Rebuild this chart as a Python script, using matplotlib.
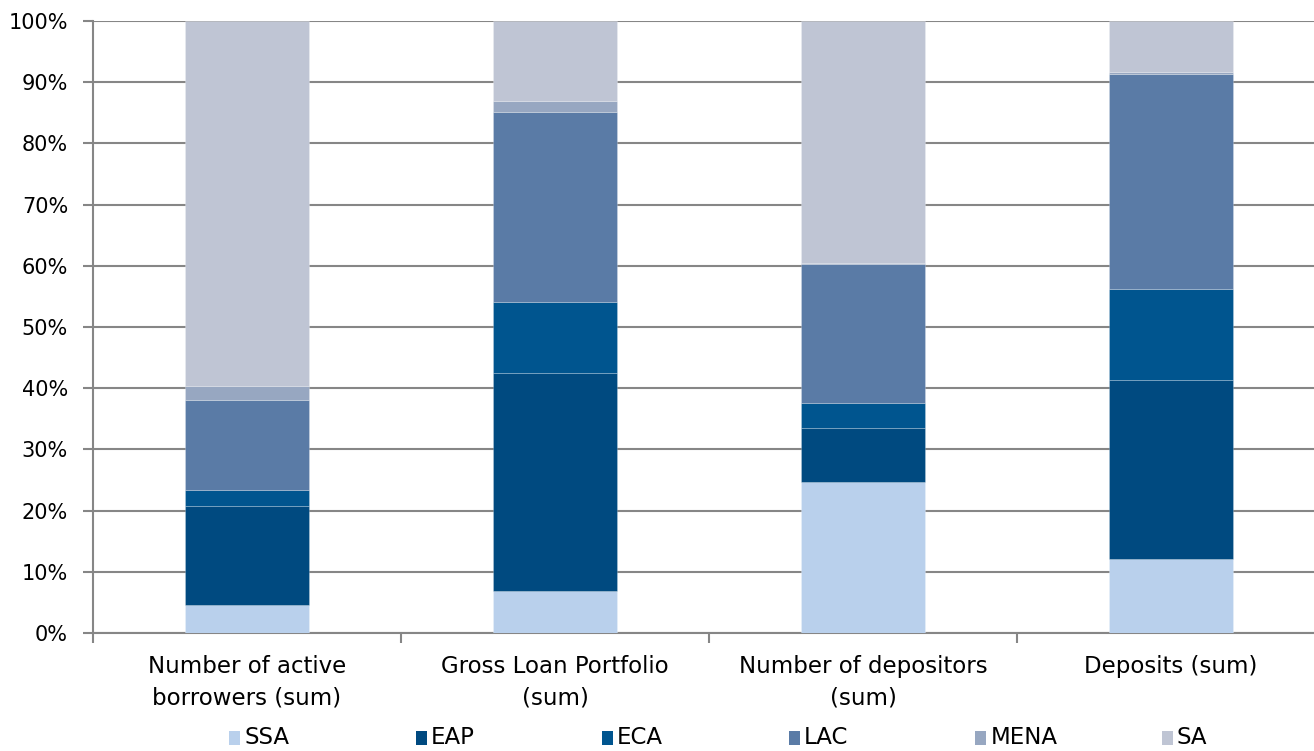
import matplotlib
matplotlib.use("Agg")
import matplotlib.pyplot as plt
from matplotlib.patches import Rectangle
import numpy as np

categories = ["Number of active\nborrowers (sum)", "Gross Loan Portfolio\n(sum)",
              "Number of depositors\n(sum)", "Deposits (sum)"]
series = ["SSA", "EAP", "ECA", "LAC", "MENA", "SA"]
ssa  = [4.6, 6.9, 24.7, 12.1]
eap  = [16.2, 35.6, 8.8, 29.2]
eca  = [2.6, 11.6, 4.1, 14.9]
lac  = [14.7, 31.0, 22.7, 35.1]
mena = [2.3, 1.8, 0.1, 0.4]
sa   = [59.6, 13.1, 39.6, 8.3]
values = [ssa, eap, eca, lac, mena, sa]
colors = ["#B9D0EC", "#004A80", "#00558F", "#5A7BA6", "#97A7C1", "#BFC5D4"]

W, H = 1314, 751
plt.rcParams['font.family'] = ['DejaVu Sans']
fig = plt.figure(figsize=(W / 100, H / 100), dpi=100)
ax = fig.add_axes([93 / W, 118 / H, 1232 / W, 612 / H])

x = np.arange(len(categories))
bottom = np.zeros(len(categories))
for name, vals, c in zip(series, values, colors):
    ax.bar(x, vals, width=0.4, bottom=bottom, color=c, label=name,
           edgecolor="#ffffff40", linewidth=0.6, zorder=3)
    bottom += np.array(vals)

grid_c = "#868686"
ax.set_xlim(-0.5, 3.5)
ax.set_ylim(0, 100)
ax.set_yticks(np.arange(0, 101, 10))
ax.set_yticklabels([f"{v}%" for v in range(0, 101, 10)], fontsize=15)
ax.yaxis.grid(True, color=grid_c, linewidth=1.5, zorder=0)
ax.set_xticks([-0.5, 0.5, 1.5, 2.5, 3.5])
ax.set_xticklabels([])
ax.set_xticks(x, minor=True)
ax.set_xticklabels(categories, minor=True, fontsize=16.5, linespacing=1.45)
ax.tick_params(axis='x', which='minor', length=0, pad=16)
ax.tick_params(axis='x', which='major', length=7, width=1.5, color=grid_c)
ax.tick_params(axis='y', length=7, width=1.5, color=grid_c, pad=11)
for s in ["top", "right"]:
    ax.spines[s].set_visible(False)
for s in ["left", "bottom"]:
    ax.spines[s].set_color(grid_c)
    ax.spines[s].set_linewidth(1.5)

# legend: equally spaced slots like the reference
for i, (n, c) in enumerate(zip(series, colors)):
    x0 = 229 + i * 186.6
    fig.add_artist(Rectangle((x0 / W, 1 - 745 / H), 11 / W, 14 / H,
                             transform=fig.transFigure, facecolor=c, edgecolor="none"))
    fig.text((x0 + 15) / W, 1 - 738 / H, n, fontsize=16.5, va="center", ha="left")

fig.savefig("out.png", dpi=100)
